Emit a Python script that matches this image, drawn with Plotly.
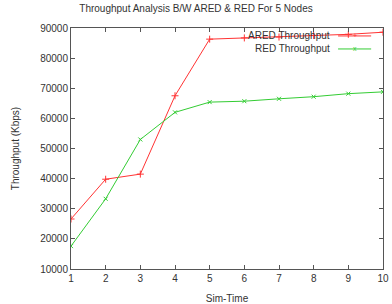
import plotly.graph_objects as go

sim_time = [1, 2, 3, 4, 5, 6, 7, 8, 9, 10]
ared = [26600, 39800, 41500, 67500, 86300, 86700, 87000, 87500, 87900, 88600]
red = [17600, 33300, 53000, 62000, 65400, 65700, 66500, 67200, 68200, 68800]
series_names = ["ARED Throughput", "RED Throughput"]
y_ticks = [10000, 20000, 30000, 40000, 50000, 60000, 70000, 80000, 90000]

RED_C = "#ff3333"
GRN_C = "#33cc33"
FONT = "Liberation Sans"
TXT = "#333333"

fig = go.Figure()
fig.add_trace(go.Scatter(x=sim_time, y=ared, mode="lines+markers", name=series_names[0],
                         line=dict(color=RED_C, width=1),
                         marker=dict(symbol="cross-thin", size=5, line=dict(color=RED_C, width=1))))
fig.add_trace(go.Scatter(x=sim_time, y=red, mode="lines+markers", name=series_names[1],
                         line=dict(color=GRN_C, width=1),
                         marker=dict(symbol="x-thin", size=4, line=dict(color=GRN_C, width=1))))

# gnuplot-style legend: text right-aligned, sample on the right
ann = []
shapes = []
for i, (nm, col, sym) in enumerate([(series_names[0], RED_C, "+"), (series_names[1], GRN_C, "x")]):
    yp = 0.967 - i * 0.054
    ann.append(dict(text=nm, x=0.838, y=yp, xref="paper", yref="paper", xanchor="right",
                    yanchor="middle", showarrow=False, font=dict(family=FONT, size=10, color=TXT)))
    shapes.append(dict(type="line", xref="paper", yref="paper", x0=0.856, x1=0.962, y0=yp, y1=yp,
                       line=dict(color=col, width=1)))
    ann.append(dict(text=sym, x=0.909, y=yp, xref="paper", yref="paper", xanchor="center",
                    yanchor="middle", showarrow=False, font=dict(family=FONT, size=7, color=col)))

fig.update_layout(
    width=392, height=304,
    margin=dict(l=71, r=9, t=28, b=35),
    paper_bgcolor="white", plot_bgcolor="white",
    showlegend=False,
    title=dict(text="Throughput Analysis B/W ARED & RED For 5 Nodes", x=0.5, xanchor="center",
               y=1 - 8 / 304, yanchor="middle", font=dict(family=FONT, size=10, color=TXT)),
    font=dict(family=FONT, size=10, color=TXT),
    annotations=ann, shapes=shapes,
)
fig.update_xaxes(range=[1, 10], tickvals=sim_time, ticks="inside", ticklen=4, tickcolor="#555",
                 showline=True, linecolor="#555", linewidth=1, mirror="ticks", showgrid=False,
                 zeroline=False, automargin=False,
                 title=dict(text="Sim-Time", standoff=12, font=dict(size=10)),
                 tickfont=dict(size=10))
fig.update_yaxes(range=[10000, 90000], tickvals=y_ticks, tickformat="d", ticks="inside", ticklen=4,
                 tickcolor="#555", showline=True, linecolor="#555", linewidth=1, mirror="ticks",
                 showgrid=False, zeroline=False, automargin=False,
                 title=dict(text="Throughput (Kbps)", standoff=18, font=dict(size=10)),
                 tickfont=dict(size=10))

fig.write_html("out.html")
